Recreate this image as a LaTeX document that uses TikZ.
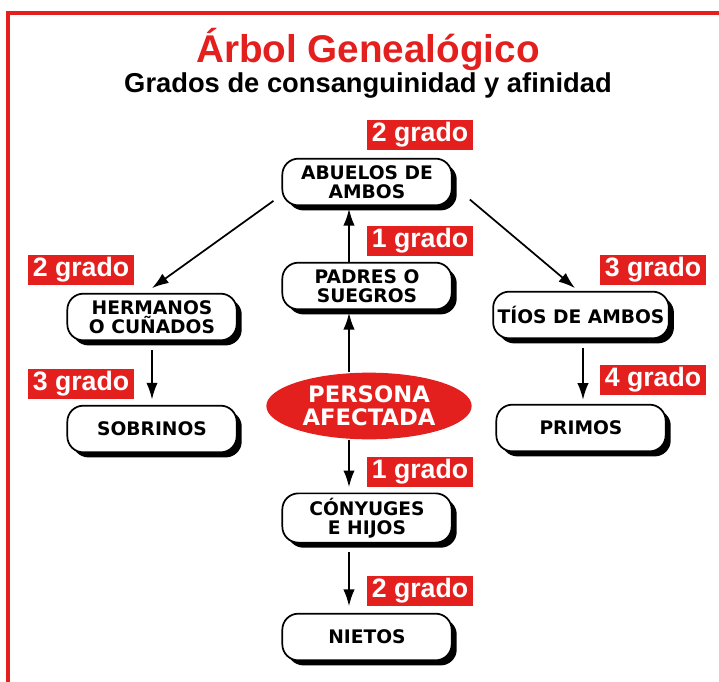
\documentclass[tikz,border=0pt]{standalone}
\usepackage{fontspec}
\setmainfont{Liberation Sans}
\newfontfamily\cajafont{DejaVu Sans}
\usetikzlibrary{arrows.meta,shapes.geometric,shadows}
\definecolor{rojo}{RGB}{228,32,30}

\begin{document}
\begin{tikzpicture}[x=0.75pt, y=-0.75pt,
    caja/.style={draw, line width=1.3pt, rounded corners=12pt, fill=white, minimum width=127pt, minimum height=35pt,
        align=center, font=\cajafont\fontsize{14}{14.5}\selectfont\bfseries,
        drop shadow={shadow xshift=3.8pt, shadow yshift=-3.8pt, fill=black, opacity=1}},
    grado/.style={fill=rojo, text=white, minimum width=80pt, minimum height=23pt, inner sep=0pt,
        font=\fontsize{20}{20}\selectfont\bfseries},
    arr/.style={-{Latex[length=12.5pt,width=8.5pt]}, line width=1.3pt}
]
\useasboundingbox (0,0) rectangle (719,682);
\draw[rojo, line width=2.4pt] (8,682) -- (8,13) -- (719,13);

\node[text=rojo, font=\fontsize{29}{29}\selectfont\bfseries, anchor=base] (titulo) at (368,62) {Árbol Genealógico};
\node[font=\fontsize{20.5}{20.5}\selectfont\bfseries, anchor=base] (subtitulo) at (368,92) {Grados de consanguinidad y afinidad};

\node[caja] (abuelos) at (367,182) {ABUELOS DE\\AMBOS};
\node[caja] (padres) at (367,286) {PADRES O\\SUEGROS};
\node[caja] (hermanos) at (152,317) {HERMANOS\\O CUÑADOS};
\node[caja] (sobrinos) at (152,429) {SOBRINOS};
\node[caja] (tios) at (581,315) {TÍOS DE AMBOS};
\node[caja] (primos) at (581,428) {PRIMOS};
\node[ellipse, fill=rojo, text=white, minimum width=154pt, minimum height=50pt, inner sep=0pt, align=center,
    font=\cajafont\fontsize{17}{17.3}\selectfont\bfseries] (persona) at (369,406) {PERSONA\\AFECTADA};
\node[caja] (conyuges) at (367,518) {CÓNYUGES\\E HIJOS};
\node[caja] (nietos) at (367,637) {NIETOS};

\node[grado] (g2abuelos) at (420,135) {2 grado};
\node[grado] (g1padres) at (420,241) {1 grado};
\node[grado] (g2hermanos) at (81,270) {2 grado};
\node[grado] (g3sobrinos) at (81,384) {3 grado};
\node[grado] (g3tios) at (653,270) {3 grado};
\node[grado] (g4primos) at (653,380) {4 grado};
\node[grado] (g1conyuges) at (420,472) {1 grado};
\node[grado] (g2nietos) at (420,591) {2 grado};

\draw[arr, shorten >=2pt] ([xshift=-13.5pt]padres.north) -- ([xshift=-13.5pt]abuelos.south);
\draw[arr, shorten >=2pt] ([xshift=-15pt]persona.north) -- ([xshift=-13.5pt]padres.south);
\draw[arr, shorten >=4pt] ([xshift=-15pt]persona.south) -- ([xshift=-13.5pt]conyuges.north);
\draw[arr, shorten <=6.5pt, shorten >=5pt] ([xshift=-13.5pt]conyuges.south) -- ([xshift=-13.5pt]nietos.north);
\draw[arr] ([shift={(-6pt,4pt)}]abuelos.south west) -- ([yshift=3.5pt]hermanos.north);
\draw[arr] ([shift={(13pt,5pt)}]abuelos.south east) -- ([shift={(-4.5pt,2pt)}]tios.north);
\draw[arr, shorten <=6.5pt, shorten >=4pt] (hermanos.south) -- (sobrinos.north);
\draw[arr, shorten <=6.5pt, shorten >=3pt] ([xshift=1.5pt]tios.south) -- ([xshift=1.5pt]primos.north);
\end{tikzpicture}
\end{document}
